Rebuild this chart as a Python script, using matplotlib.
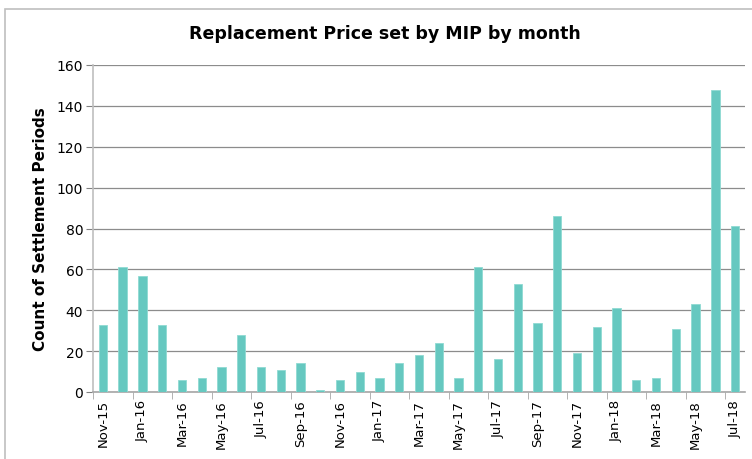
import numpy as np
import matplotlib
matplotlib.use("Agg")
from matplotlib import pyplot as plt
from matplotlib.patches import Rectangle

months = ['Nov-15', 'Dec-15', 'Jan-16', 'Feb-16', 'Mar-16', 'Apr-16', 'May-16', 'Jun-16',
          'Jul-16', 'Aug-16', 'Sep-16', 'Oct-16', 'Nov-16', 'Dec-16', 'Jan-17', 'Feb-17',
          'Mar-17', 'Apr-17', 'May-17', 'Jun-17', 'Jul-17', 'Aug-17', 'Sep-17', 'Oct-17',
          'Nov-17', 'Dec-17', 'Jan-18', 'Feb-18', 'Mar-18', 'Apr-18', 'May-18', 'Jun-18',
          'Jul-18']
counts = [33, 61, 57, 33, 6, 7, 12, 28, 12, 11, 14, 1, 6, 10, 7, 14,
          18, 24, 7, 61, 16, 53, 34, 86, 19, 32, 41, 6, 7, 31, 43, 148, 81]
y_ticks = [0, 20, 40, 60, 80, 100, 120, 140, 160]

fig = plt.figure(figsize=(7.52, 4.6), dpi=100)
fig.patches.append(Rectangle((5 / 752, -0.1), 2, 1 - 10 / 460 + 0.1, transform=fig.transFigure,
                             fill=False, edgecolor='#BFBFBF', lw=1.2))
ax = fig.add_axes([93 / 752, 1 - 393 / 460, 652 / 752, 327 / 460])

x = np.arange(len(months))
ax.bar(x, counts, width=0.42, color='#66C8C0', edgecolor='#8FDAD3', lw=0.6, zorder=3)

ax.set_xlim(-0.5, len(months) - 0.5)
ax.set_ylim(0, 160)
ax.set_yticks(y_ticks)
ax.set_xticks(x[::2])
ax.set_xticklabels(months[::2], rotation=90)
ax.set_xticks(np.arange(-0.5, len(months), 2), minor=True)
ax.tick_params(axis='x', which='major', length=0, labelsize=9.5, pad=5)
ax.tick_params(axis='x', which='minor', length=5, color='#A6A6A6')
ax.tick_params(axis='y', length=5, color='#808080', labelsize=10, pad=2)

ax.grid(axis='y', color='#8C8C8C', lw=0.9, zorder=0)
for s in ['top', 'right']:
    ax.spines[s].set_visible(False)
ax.spines['left'].set_color('#BFBFBF')
ax.spines['left'].set_linewidth(1.2)
ax.spines['bottom'].set_color('#A6A6A6')
ax.spines['bottom'].set_linewidth(1.2)

ax.set_ylabel('Count of Settlement Periods', fontsize=11, fontweight='bold', labelpad=6)
fig.text(385 / 752, 1 - 34 / 460, 'Replacement Price set by MIP by month',
         ha='center', va='center', fontsize=12.5, fontweight='bold')

fig.savefig('out.png', dpi=100)
